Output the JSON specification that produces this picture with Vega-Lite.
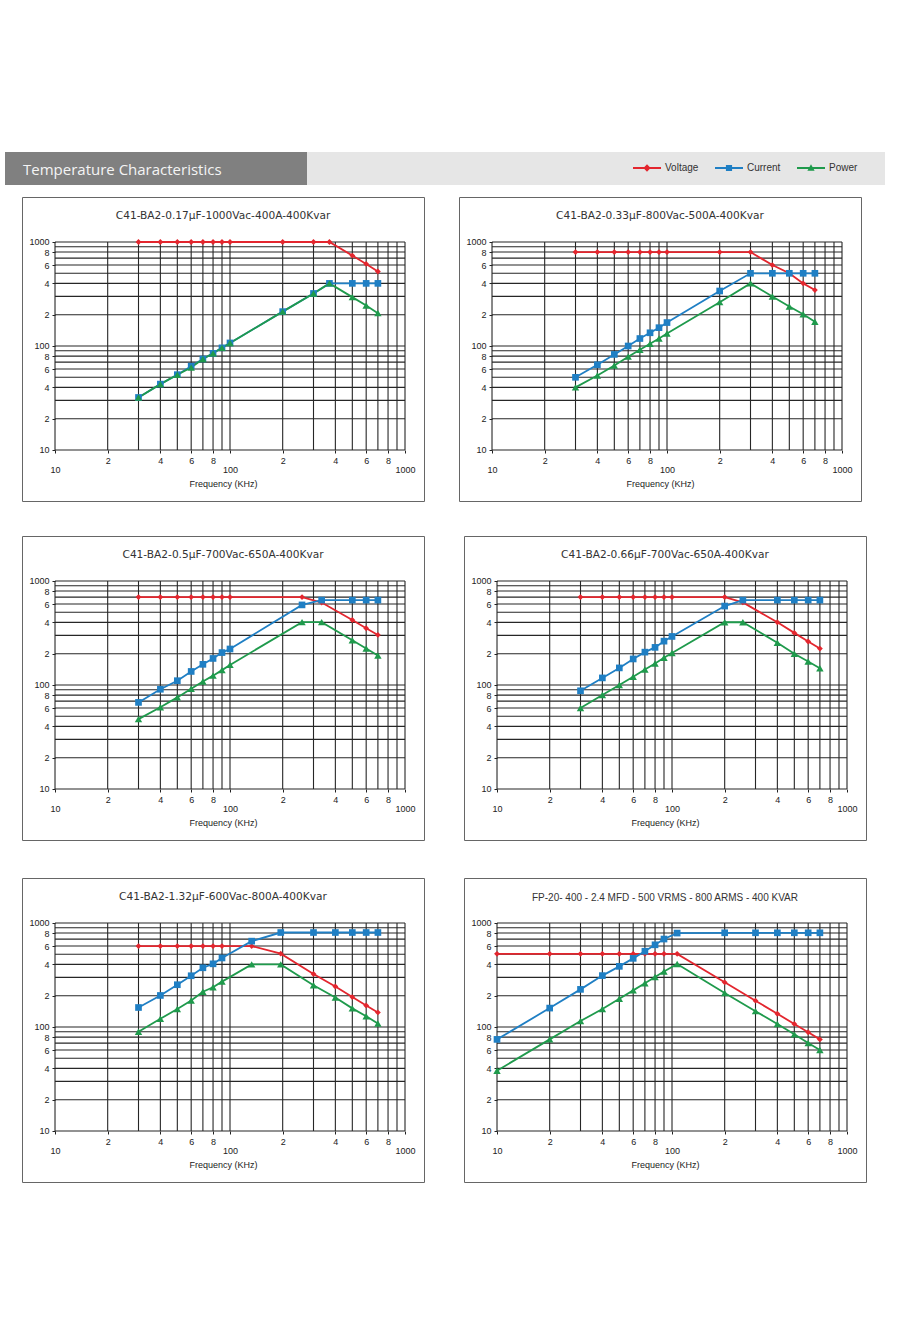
{
"$schema": "https://vega.github.io/schema/vega-lite/v6.json",
"background": "white",
"padding": {"left": 5, "top": 152, "right": 5, "bottom": 5},
"config": {
  "view": {"stroke": "#666666", "strokeWidth": 1},
  "font": "Liberation Sans",
  "title": {"font": "DejaVu Sans", "fontSize": 10.6, "fontWeight": "normal", "color": "#333333", "offset": -25, "baseline": "alphabetic"},
  "axis": {"labelFont": "Liberation Sans", "labelFontSize": 9, "labelColor": "#222222", "tickColor": "#222222", "tickSize": 3, "domain": false, "grid": false, "titleFont": "Liberation Sans", "titleFontSize": 9, "titleFontWeight": "normal", "titleColor": "#222222", "labelFlush": false, "labelOverlap": false}
},
"resolve": {"scale": {"color": "independent", "shape": "independent", "size": "independent"}, "legend": {"color": "independent", "shape": "independent", "size": "independent"}},
"datasets": {
  "grid": [{"f":10,"v":10},{"f":20,"v":20},{"f":30,"v":30},{"f":40,"v":40},{"f":50,"v":50},{"f":60,"v":60},{"f":70,"v":70},{"f":80,"v":80},{"f":90,"v":90},{"f":100,"v":100},{"f":200,"v":200},{"f":300,"v":300},{"f":400,"v":400},{"f":500,"v":500},{"f":600,"v":600},{"f":700,"v":700},{"f":800,"v":800},{"f":900,"v":900},{"f":1000,"v":1000}],
  "series": [
{"p":1,"s":"Voltage","f":30,"v":1000},{"p":1,"s":"Voltage","f":40,"v":1000},{"p":1,"s":"Voltage","f":50,"v":1000},{"p":1,"s":"Voltage","f":60,"v":1000},{"p":1,"s":"Voltage","f":70,"v":1000},{"p":1,"s":"Voltage","f":80,"v":1000},{"p":1,"s":"Voltage","f":90,"v":1000},{"p":1,"s":"Voltage","f":100,"v":1000},{"p":1,"s":"Voltage","f":200,"v":1000},{"p":1,"s":"Voltage","f":300,"v":1000},{"p":1,"s":"Voltage","f":370,"v":1000},{"p":1,"s":"Voltage","f":500,"v":740},{"p":1,"s":"Voltage","f":600,"v":615},{"p":1,"s":"Voltage","f":700,"v":520},
{"p":1,"s":"Current","f":30,"v":32},{"p":1,"s":"Current","f":40,"v":43},{"p":1,"s":"Current","f":50,"v":53},{"p":1,"s":"Current","f":60,"v":64},{"p":1,"s":"Current","f":70,"v":75},{"p":1,"s":"Current","f":80,"v":85},{"p":1,"s":"Current","f":90,"v":96},{"p":1,"s":"Current","f":100,"v":107},{"p":1,"s":"Current","f":200,"v":214},{"p":1,"s":"Current","f":300,"v":320},{"p":1,"s":"Current","f":370,"v":400},{"p":1,"s":"Current","f":500,"v":400},{"p":1,"s":"Current","f":600,"v":400},{"p":1,"s":"Current","f":700,"v":400},
{"p":1,"s":"Power","f":30,"v":32},{"p":1,"s":"Power","f":40,"v":43},{"p":1,"s":"Power","f":50,"v":53},{"p":1,"s":"Power","f":60,"v":62},{"p":1,"s":"Power","f":70,"v":75},{"p":1,"s":"Power","f":80,"v":85},{"p":1,"s":"Power","f":90,"v":96},{"p":1,"s":"Power","f":100,"v":107},{"p":1,"s":"Power","f":200,"v":214},{"p":1,"s":"Power","f":300,"v":320},{"p":1,"s":"Power","f":370,"v":400},{"p":1,"s":"Power","f":500,"v":295},{"p":1,"s":"Power","f":600,"v":245},{"p":1,"s":"Power","f":700,"v":207},
{"p":2,"s":"Voltage","f":30,"v":800},{"p":2,"s":"Voltage","f":40,"v":800},{"p":2,"s":"Voltage","f":50,"v":800},{"p":2,"s":"Voltage","f":60,"v":800},{"p":2,"s":"Voltage","f":70,"v":800},{"p":2,"s":"Voltage","f":80,"v":800},{"p":2,"s":"Voltage","f":90,"v":800},{"p":2,"s":"Voltage","f":100,"v":800},{"p":2,"s":"Voltage","f":200,"v":800},{"p":2,"s":"Voltage","f":300,"v":800},{"p":2,"s":"Voltage","f":400,"v":600},{"p":2,"s":"Voltage","f":500,"v":500},{"p":2,"s":"Voltage","f":600,"v":400},{"p":2,"s":"Voltage","f":700,"v":345},
{"p":2,"s":"Current","f":30,"v":50},{"p":2,"s":"Current","f":40,"v":66},{"p":2,"s":"Current","f":50,"v":83},{"p":2,"s":"Current","f":60,"v":100},{"p":2,"s":"Current","f":70,"v":118},{"p":2,"s":"Current","f":80,"v":134},{"p":2,"s":"Current","f":90,"v":150},{"p":2,"s":"Current","f":100,"v":168},{"p":2,"s":"Current","f":200,"v":338},{"p":2,"s":"Current","f":300,"v":500},{"p":2,"s":"Current","f":400,"v":500},{"p":2,"s":"Current","f":500,"v":500},{"p":2,"s":"Current","f":600,"v":500},{"p":2,"s":"Current","f":700,"v":500},
{"p":2,"s":"Power","f":30,"v":40},{"p":2,"s":"Power","f":40,"v":52},{"p":2,"s":"Power","f":50,"v":65},{"p":2,"s":"Power","f":60,"v":79},{"p":2,"s":"Power","f":70,"v":92},{"p":2,"s":"Power","f":80,"v":105},{"p":2,"s":"Power","f":90,"v":118},{"p":2,"s":"Power","f":100,"v":132},{"p":2,"s":"Power","f":200,"v":264},{"p":2,"s":"Power","f":300,"v":400},{"p":2,"s":"Power","f":400,"v":299},{"p":2,"s":"Power","f":500,"v":240},{"p":2,"s":"Power","f":600,"v":202},{"p":2,"s":"Power","f":700,"v":171},
{"p":3,"s":"Voltage","f":30,"v":700},{"p":3,"s":"Voltage","f":40,"v":700},{"p":3,"s":"Voltage","f":50,"v":700},{"p":3,"s":"Voltage","f":60,"v":700},{"p":3,"s":"Voltage","f":70,"v":700},{"p":3,"s":"Voltage","f":80,"v":700},{"p":3,"s":"Voltage","f":90,"v":700},{"p":3,"s":"Voltage","f":100,"v":700},{"p":3,"s":"Voltage","f":258,"v":700},{"p":3,"s":"Voltage","f":334,"v":620},{"p":3,"s":"Voltage","f":500,"v":422},{"p":3,"s":"Voltage","f":600,"v":351},{"p":3,"s":"Voltage","f":700,"v":303},
{"p":3,"s":"Current","f":30,"v":68},{"p":3,"s":"Current","f":40,"v":91},{"p":3,"s":"Current","f":50,"v":110},{"p":3,"s":"Current","f":60,"v":135},{"p":3,"s":"Current","f":70,"v":158},{"p":3,"s":"Current","f":80,"v":180},{"p":3,"s":"Current","f":90,"v":205},{"p":3,"s":"Current","f":100,"v":222},{"p":3,"s":"Current","f":258,"v":589},{"p":3,"s":"Current","f":334,"v":655},{"p":3,"s":"Current","f":500,"v":655},{"p":3,"s":"Current","f":600,"v":655},{"p":3,"s":"Current","f":700,"v":655},
{"p":3,"s":"Power","f":30,"v":47},{"p":3,"s":"Power","f":40,"v":61},{"p":3,"s":"Power","f":50,"v":76},{"p":3,"s":"Power","f":60,"v":92},{"p":3,"s":"Power","f":70,"v":108},{"p":3,"s":"Power","f":80,"v":123},{"p":3,"s":"Power","f":90,"v":139},{"p":3,"s":"Power","f":100,"v":156},{"p":3,"s":"Power","f":258,"v":402},{"p":3,"s":"Power","f":334,"v":402},{"p":3,"s":"Power","f":500,"v":269},{"p":3,"s":"Power","f":600,"v":224},{"p":3,"s":"Power","f":700,"v":192},
{"p":4,"s":"Voltage","f":30,"v":700},{"p":4,"s":"Voltage","f":40,"v":700},{"p":4,"s":"Voltage","f":50,"v":700},{"p":4,"s":"Voltage","f":60,"v":700},{"p":4,"s":"Voltage","f":70,"v":700},{"p":4,"s":"Voltage","f":80,"v":700},{"p":4,"s":"Voltage","f":90,"v":700},{"p":4,"s":"Voltage","f":100,"v":700},{"p":4,"s":"Voltage","f":200,"v":700},{"p":4,"s":"Voltage","f":254,"v":622},{"p":4,"s":"Voltage","f":400,"v":401},{"p":4,"s":"Voltage","f":500,"v":317},{"p":4,"s":"Voltage","f":600,"v":262},{"p":4,"s":"Voltage","f":700,"v":224},
{"p":4,"s":"Current","f":30,"v":88},{"p":4,"s":"Current","f":40,"v":117},{"p":4,"s":"Current","f":50,"v":146},{"p":4,"s":"Current","f":60,"v":178},{"p":4,"s":"Current","f":70,"v":207},{"p":4,"s":"Current","f":80,"v":230},{"p":4,"s":"Current","f":90,"v":264},{"p":4,"s":"Current","f":100,"v":293},{"p":4,"s":"Current","f":200,"v":574},{"p":4,"s":"Current","f":254,"v":655},{"p":4,"s":"Current","f":400,"v":655},{"p":4,"s":"Current","f":500,"v":655},{"p":4,"s":"Current","f":600,"v":655},{"p":4,"s":"Current","f":700,"v":655},
{"p":4,"s":"Power","f":30,"v":60},{"p":4,"s":"Power","f":40,"v":80},{"p":4,"s":"Power","f":50,"v":100},{"p":4,"s":"Power","f":60,"v":120},{"p":4,"s":"Power","f":70,"v":141},{"p":4,"s":"Power","f":80,"v":161},{"p":4,"s":"Power","f":90,"v":183},{"p":4,"s":"Power","f":100,"v":203},{"p":4,"s":"Power","f":200,"v":401},{"p":4,"s":"Power","f":254,"v":401},{"p":4,"s":"Power","f":400,"v":255},{"p":4,"s":"Power","f":500,"v":200},{"p":4,"s":"Power","f":600,"v":168},{"p":4,"s":"Power","f":700,"v":145},
{"p":5,"s":"Voltage","f":30,"v":600},{"p":5,"s":"Voltage","f":40,"v":600},{"p":5,"s":"Voltage","f":50,"v":600},{"p":5,"s":"Voltage","f":60,"v":600},{"p":5,"s":"Voltage","f":70,"v":600},{"p":5,"s":"Voltage","f":80,"v":600},{"p":5,"s":"Voltage","f":90,"v":600},{"p":5,"s":"Voltage","f":133,"v":600},{"p":5,"s":"Voltage","f":195,"v":507},{"p":5,"s":"Voltage","f":300,"v":323},{"p":5,"s":"Voltage","f":400,"v":245},{"p":5,"s":"Voltage","f":500,"v":194},{"p":5,"s":"Voltage","f":600,"v":161},{"p":5,"s":"Voltage","f":700,"v":138},
{"p":5,"s":"Current","f":30,"v":154},{"p":5,"s":"Current","f":40,"v":201},{"p":5,"s":"Current","f":50,"v":255},{"p":5,"s":"Current","f":60,"v":311},{"p":5,"s":"Current","f":70,"v":371},{"p":5,"s":"Current","f":80,"v":405},{"p":5,"s":"Current","f":90,"v":461},{"p":5,"s":"Current","f":133,"v":669},{"p":5,"s":"Current","f":195,"v":810},{"p":5,"s":"Current","f":300,"v":810},{"p":5,"s":"Current","f":400,"v":810},{"p":5,"s":"Current","f":500,"v":810},{"p":5,"s":"Current","f":600,"v":810},{"p":5,"s":"Current","f":700,"v":810},
{"p":5,"s":"Power","f":30,"v":90},{"p":5,"s":"Power","f":40,"v":120},{"p":5,"s":"Power","f":50,"v":149},{"p":5,"s":"Power","f":60,"v":180},{"p":5,"s":"Power","f":70,"v":218},{"p":5,"s":"Power","f":80,"v":241},{"p":5,"s":"Power","f":90,"v":273},{"p":5,"s":"Power","f":133,"v":400},{"p":5,"s":"Power","f":195,"v":400},{"p":5,"s":"Power","f":300,"v":252},{"p":5,"s":"Power","f":400,"v":192},{"p":5,"s":"Power","f":500,"v":151},{"p":5,"s":"Power","f":600,"v":127},{"p":5,"s":"Power","f":700,"v":108},
{"p":6,"s":"Voltage","f":10,"v":505},{"p":6,"s":"Voltage","f":20,"v":505},{"p":6,"s":"Voltage","f":30,"v":505},{"p":6,"s":"Voltage","f":40,"v":505},{"p":6,"s":"Voltage","f":50,"v":505},{"p":6,"s":"Voltage","f":60,"v":505},{"p":6,"s":"Voltage","f":70,"v":505},{"p":6,"s":"Voltage","f":80,"v":505},{"p":6,"s":"Voltage","f":90,"v":505},{"p":6,"s":"Voltage","f":107,"v":505},{"p":6,"s":"Voltage","f":200,"v":269},{"p":6,"s":"Voltage","f":300,"v":179},{"p":6,"s":"Voltage","f":400,"v":134},{"p":6,"s":"Voltage","f":500,"v":107},{"p":6,"s":"Voltage","f":600,"v":89},{"p":6,"s":"Voltage","f":700,"v":76},
{"p":6,"s":"Current","f":10,"v":76},{"p":6,"s":"Current","f":20,"v":152},{"p":6,"s":"Current","f":30,"v":230},{"p":6,"s":"Current","f":40,"v":312},{"p":6,"s":"Current","f":50,"v":383},{"p":6,"s":"Current","f":60,"v":457},{"p":6,"s":"Current","f":70,"v":535},{"p":6,"s":"Current","f":80,"v":617},{"p":6,"s":"Current","f":90,"v":701},{"p":6,"s":"Current","f":107,"v":800},{"p":6,"s":"Current","f":200,"v":805},{"p":6,"s":"Current","f":300,"v":805},{"p":6,"s":"Current","f":400,"v":805},{"p":6,"s":"Current","f":500,"v":805},{"p":6,"s":"Current","f":600,"v":805},{"p":6,"s":"Current","f":700,"v":805},
{"p":6,"s":"Power","f":10,"v":38},{"p":6,"s":"Power","f":20,"v":76},{"p":6,"s":"Power","f":30,"v":114},{"p":6,"s":"Power","f":40,"v":149},{"p":6,"s":"Power","f":50,"v":187},{"p":6,"s":"Power","f":60,"v":225},{"p":6,"s":"Power","f":70,"v":263},{"p":6,"s":"Power","f":80,"v":303},{"p":6,"s":"Power","f":90,"v":342},{"p":6,"s":"Power","f":107,"v":403},{"p":6,"s":"Power","f":200,"v":212},{"p":6,"s":"Power","f":300,"v":142},{"p":6,"s":"Power","f":400,"v":107},{"p":6,"s":"Power","f":500,"v":85},{"p":6,"s":"Power","f":600,"v":70},{"p":6,"s":"Power","f":700,"v":60}
  ]
},
"spacing": 11,
"vconcat": [
  {"hconcat": [
    {"width": 302, "height": 33, "view": {"fill": "#808080", "stroke": null},
     "data": {"values": [{"t": "Temperature Characteristics"}]},
     "mark": {"type": "text", "align": "left", "baseline": "alphabetic", "dx": -133, "dy": 6.5, "font": "Open Sans", "fontSize": 15, "color": "#f4f4f4"},
     "encoding": {"text": {"field": "t", "type": "nominal"}}},
    {"width": 578, "height": 33, "view": {"fill": "#e6e6e6", "stroke": null},
     "data": {"values": [{"s": "Voltage"}, {"s": "Current"}, {"s": "Power"}]},
     "mark": {"type": "point", "filled": true, "opacity": 0},
     "encoding": {
       "color": {"field": "s", "type": "nominal", "scale": {"domain": ["Voltage", "Current", "Power"], "range": ["#e3262e", "#1f7fc4", "#1f9a4c"]},
         "legend": {"title": null, "orient": "none", "legendX": 628, "legendY": 2, "direction": "horizontal", "symbolSize": 784, "symbolOpacity": 1, "symbolStrokeWidth": 0, "labelFont": "Liberation Sans", "labelFontSize": 10, "labelColor": "#333333", "labelOffset": 4, "columnPadding": 16}},
       "shape": {"field": "s", "type": "nominal", "scale": {"domain": ["Voltage", "Current", "Power"], "range": ["M-1,-0.07H1V0.07H-1Z M0,-0.26L0.26,0L0,0.26L-0.26,0Z", "M-1,-0.07H1V0.07H-1Z M-0.22,-0.22H0.22V0.22H-0.22Z", "M-1,-0.07H1V0.07H-1Z M0,-0.27L0.26,0.2H-0.26Z"]},
         "legend": {"title": null, "orient": "none", "legendX": 628, "legendY": 2, "direction": "horizontal", "symbolSize": 784, "symbolOpacity": 1, "symbolStrokeWidth": 0, "labelFont": "Liberation Sans", "labelFontSize": 10, "labelColor": "#333333", "labelOffset": 4, "columnPadding": 16}}
     }}
  ], "spacing": 0},
  {"hconcat": [
    {"width": 2, "height": 2, "view": {"stroke": null}, "data": {"values": [{"k": 1}]}, "mark": {"type": "point", "opacity": 0, "size": 1}},
    {"vconcat": [
      {"hconcat": [
        {"width": 402, "height": 304, "title": {"text": "C41-BA2-0.17μF-1000Vac-400A-400Kvar"},
         "encoding": {
           "x": {"field": "f", "type": "quantitative", "scale": {"type": "log", "domain": [6.477, 1284], "nice": false}, "axis": {"values": [10,20,40,60,80,100,200,400,600,800,1000], "format": "d", "labelExpr": "indexof(['10','100','1000'], datum.label) >= 0 ? datum.label : slice(datum.label, 0, 1)", "offset": -51, "title": "Frequency (KHz)", "titlePadding": 5, "labelPadding": {"condition": {"test": "datum.value == 10 || datum.value == 100 || datum.value == 1000", "value": 12}, "value": 3}}},
           "y": {"field": "v", "type": "quantitative", "scale": {"type": "log", "domain": [3.233, 2708], "nice": false}, "axis": {"values": [10,20,40,60,80,100,200,400,600,800,1000], "format": "d", "labelExpr": "indexof(['10','100','1000'], datum.label) >= 0 ? datum.label : slice(datum.label, 0, 1)", "offset": -33, "title": null, "labelPadding": 3}}
         },
         "layer": [
           {"data": {"name": "grid"}, "mark": {"type": "rule", "color": "#262626", "strokeWidth": 1.1}, "encoding": {"y": {"datum": 10}, "y2": {"datum": 1000}}},
           {"data": {"name": "grid"}, "mark": {"type": "rule", "color": "#262626", "strokeWidth": 1.1}, "encoding": {"x": {"datum": 10}, "x2": {"datum": 1000}}},
           {"data": {"name": "series"}, "transform": [{"filter": "datum.p == 1"}], "layer": [
             {"mark": {"type": "line", "strokeWidth": 1.8}, "encoding": {"color": {"field": "s", "type": "nominal", "scale": {"domain": ["Voltage", "Current", "Power"], "range": ["#e3262e", "#1f7fc4", "#1f9a4c"]}, "legend": null}}},
             {"mark": {"type": "point", "filled": true, "opacity": 1}, "encoding": {"color": {"field": "s", "type": "nominal", "scale": {"domain": ["Voltage", "Current", "Power"], "range": ["#e3262e", "#1f7fc4", "#1f9a4c"]}, "legend": null}, "shape": {"field": "s", "type": "nominal", "scale": {"domain": ["Voltage", "Current", "Power"], "range": ["diamond", "square", "triangle-up"]}, "legend": null}, "size": {"field": "s", "type": "ordinal", "scale": {"domain": ["Voltage", "Current", "Power"], "range": [34, 55, 45]}, "legend": null}}}
           ]}
         ]},
        {"width": 402, "height": 304, "title": {"text": "C41-BA2-0.33μF-800Vac-500A-400Kvar"},
         "encoding": {
           "x": {"field": "f", "type": "quantitative", "scale": {"type": "log", "domain": [6.477, 1284], "nice": false}, "axis": {"values": [10,20,40,60,80,100,200,400,600,800,1000], "format": "d", "labelExpr": "indexof(['10','100','1000'], datum.label) >= 0 ? datum.label : slice(datum.label, 0, 1)", "offset": -51, "title": "Frequency (KHz)", "titlePadding": 5, "labelPadding": {"condition": {"test": "datum.value == 10 || datum.value == 100 || datum.value == 1000", "value": 12}, "value": 3}}},
           "y": {"field": "v", "type": "quantitative", "scale": {"type": "log", "domain": [3.233, 2708], "nice": false}, "axis": {"values": [10,20,40,60,80,100,200,400,600,800,1000], "format": "d", "labelExpr": "indexof(['10','100','1000'], datum.label) >= 0 ? datum.label : slice(datum.label, 0, 1)", "offset": -33, "title": null, "labelPadding": 3}}
         },
         "layer": [
           {"data": {"name": "grid"}, "mark": {"type": "rule", "color": "#262626", "strokeWidth": 1.1}, "encoding": {"y": {"datum": 10}, "y2": {"datum": 1000}}},
           {"data": {"name": "grid"}, "mark": {"type": "rule", "color": "#262626", "strokeWidth": 1.1}, "encoding": {"x": {"datum": 10}, "x2": {"datum": 1000}}},
           {"data": {"name": "series"}, "transform": [{"filter": "datum.p == 2"}], "layer": [
             {"mark": {"type": "line", "strokeWidth": 1.8}, "encoding": {"color": {"field": "s", "type": "nominal", "scale": {"domain": ["Voltage", "Current", "Power"], "range": ["#e3262e", "#1f7fc4", "#1f9a4c"]}, "legend": null}}},
             {"mark": {"type": "point", "filled": true, "opacity": 1}, "encoding": {"color": {"field": "s", "type": "nominal", "scale": {"domain": ["Voltage", "Current", "Power"], "range": ["#e3262e", "#1f7fc4", "#1f9a4c"]}, "legend": null}, "shape": {"field": "s", "type": "nominal", "scale": {"domain": ["Voltage", "Current", "Power"], "range": ["diamond", "square", "triangle-up"]}, "legend": null}, "size": {"field": "s", "type": "ordinal", "scale": {"domain": ["Voltage", "Current", "Power"], "range": [34, 55, 45]}, "legend": null}}}
           ]}
         ]}
      ], "spacing": 33},
      {"vconcat": [
        {"hconcat": [
          {"width": 402, "height": 304, "title": {"text": "C41-BA2-0.5μF-700Vac-650A-400Kvar"},
           "encoding": {
             "x": {"field": "f", "type": "quantitative", "scale": {"type": "log", "domain": [6.477, 1284], "nice": false}, "axis": {"values": [10,20,40,60,80,100,200,400,600,800,1000], "format": "d", "labelExpr": "indexof(['10','100','1000'], datum.label) >= 0 ? datum.label : slice(datum.label, 0, 1)", "offset": -51, "title": "Frequency (KHz)", "titlePadding": 5, "labelPadding": {"condition": {"test": "datum.value == 10 || datum.value == 100 || datum.value == 1000", "value": 12}, "value": 3}}},
             "y": {"field": "v", "type": "quantitative", "scale": {"type": "log", "domain": [3.233, 2708], "nice": false}, "axis": {"values": [10,20,40,60,80,100,200,400,600,800,1000], "format": "d", "labelExpr": "indexof(['10','100','1000'], datum.label) >= 0 ? datum.label : slice(datum.label, 0, 1)", "offset": -33, "title": null, "labelPadding": 3}}
           },
           "layer": [
             {"data": {"name": "grid"}, "mark": {"type": "rule", "color": "#262626", "strokeWidth": 1.1}, "encoding": {"y": {"datum": 10}, "y2": {"datum": 1000}}},
             {"data": {"name": "grid"}, "mark": {"type": "rule", "color": "#262626", "strokeWidth": 1.1}, "encoding": {"x": {"datum": 10}, "x2": {"datum": 1000}}},
             {"data": {"name": "series"}, "transform": [{"filter": "datum.p == 3"}], "layer": [
               {"mark": {"type": "line", "strokeWidth": 1.8}, "encoding": {"color": {"field": "s", "type": "nominal", "scale": {"domain": ["Voltage", "Current", "Power"], "range": ["#e3262e", "#1f7fc4", "#1f9a4c"]}, "legend": null}}},
               {"mark": {"type": "point", "filled": true, "opacity": 1}, "encoding": {"color": {"field": "s", "type": "nominal", "scale": {"domain": ["Voltage", "Current", "Power"], "range": ["#e3262e", "#1f7fc4", "#1f9a4c"]}, "legend": null}, "shape": {"field": "s", "type": "nominal", "scale": {"domain": ["Voltage", "Current", "Power"], "range": ["diamond", "square", "triangle-up"]}, "legend": null}, "size": {"field": "s", "type": "ordinal", "scale": {"domain": ["Voltage", "Current", "Power"], "range": [34, 55, 45]}, "legend": null}}}
             ]}
           ]},
          {"width": 402, "height": 304, "title": {"text": "C41-BA2-0.66μF-700Vac-650A-400Kvar"},
           "encoding": {
             "x": {"field": "f", "type": "quantitative", "scale": {"type": "log", "domain": [6.477, 1284], "nice": false}, "axis": {"values": [10,20,40,60,80,100,200,400,600,800,1000], "format": "d", "labelExpr": "indexof(['10','100','1000'], datum.label) >= 0 ? datum.label : slice(datum.label, 0, 1)", "offset": -51, "title": "Frequency (KHz)", "titlePadding": 5, "labelPadding": {"condition": {"test": "datum.value == 10 || datum.value == 100 || datum.value == 1000", "value": 12}, "value": 3}}},
             "y": {"field": "v", "type": "quantitative", "scale": {"type": "log", "domain": [3.233, 2708], "nice": false}, "axis": {"values": [10,20,40,60,80,100,200,400,600,800,1000], "format": "d", "labelExpr": "indexof(['10','100','1000'], datum.label) >= 0 ? datum.label : slice(datum.label, 0, 1)", "offset": -33, "title": null, "labelPadding": 3}}
           },
           "layer": [
             {"data": {"name": "grid"}, "mark": {"type": "rule", "color": "#262626", "strokeWidth": 1.1}, "encoding": {"y": {"datum": 10}, "y2": {"datum": 1000}}},
             {"data": {"name": "grid"}, "mark": {"type": "rule", "color": "#262626", "strokeWidth": 1.1}, "encoding": {"x": {"datum": 10}, "x2": {"datum": 1000}}},
             {"data": {"name": "series"}, "transform": [{"filter": "datum.p == 4"}], "layer": [
               {"mark": {"type": "line", "strokeWidth": 1.8}, "encoding": {"color": {"field": "s", "type": "nominal", "scale": {"domain": ["Voltage", "Current", "Power"], "range": ["#e3262e", "#1f7fc4", "#1f9a4c"]}, "legend": null}}},
               {"mark": {"type": "point", "filled": true, "opacity": 1}, "encoding": {"color": {"field": "s", "type": "nominal", "scale": {"domain": ["Voltage", "Current", "Power"], "range": ["#e3262e", "#1f7fc4", "#1f9a4c"]}, "legend": null}, "shape": {"field": "s", "type": "nominal", "scale": {"domain": ["Voltage", "Current", "Power"], "range": ["diamond", "square", "triangle-up"]}, "legend": null}, "size": {"field": "s", "type": "ordinal", "scale": {"domain": ["Voltage", "Current", "Power"], "range": [34, 55, 45]}, "legend": null}}}
             ]}
           ]}
        ], "spacing": 38},
        {"hconcat": [
          {"width": 402, "height": 304, "title": {"text": "C41-BA2-1.32μF-600Vac-800A-400Kvar"},
           "encoding": {
             "x": {"field": "f", "type": "quantitative", "scale": {"type": "log", "domain": [6.477, 1284], "nice": false}, "axis": {"values": [10,20,40,60,80,100,200,400,600,800,1000], "format": "d", "labelExpr": "indexof(['10','100','1000'], datum.label) >= 0 ? datum.label : slice(datum.label, 0, 1)", "offset": -51, "title": "Frequency (KHz)", "titlePadding": 5, "labelPadding": {"condition": {"test": "datum.value == 10 || datum.value == 100 || datum.value == 1000", "value": 12}, "value": 3}}},
             "y": {"field": "v", "type": "quantitative", "scale": {"type": "log", "domain": [3.233, 2708], "nice": false}, "axis": {"values": [10,20,40,60,80,100,200,400,600,800,1000], "format": "d", "labelExpr": "indexof(['10','100','1000'], datum.label) >= 0 ? datum.label : slice(datum.label, 0, 1)", "offset": -33, "title": null, "labelPadding": 3}}
           },
           "layer": [
             {"data": {"name": "grid"}, "mark": {"type": "rule", "color": "#262626", "strokeWidth": 1.1}, "encoding": {"y": {"datum": 10}, "y2": {"datum": 1000}}},
             {"data": {"name": "grid"}, "mark": {"type": "rule", "color": "#262626", "strokeWidth": 1.1}, "encoding": {"x": {"datum": 10}, "x2": {"datum": 1000}}},
             {"data": {"name": "series"}, "transform": [{"filter": "datum.p == 5"}], "layer": [
               {"mark": {"type": "line", "strokeWidth": 1.8}, "encoding": {"color": {"field": "s", "type": "nominal", "scale": {"domain": ["Voltage", "Current", "Power"], "range": ["#e3262e", "#1f7fc4", "#1f9a4c"]}, "legend": null}}},
               {"mark": {"type": "point", "filled": true, "opacity": 1}, "encoding": {"color": {"field": "s", "type": "nominal", "scale": {"domain": ["Voltage", "Current", "Power"], "range": ["#e3262e", "#1f7fc4", "#1f9a4c"]}, "legend": null}, "shape": {"field": "s", "type": "nominal", "scale": {"domain": ["Voltage", "Current", "Power"], "range": ["diamond", "square", "triangle-up"]}, "legend": null}, "size": {"field": "s", "type": "ordinal", "scale": {"domain": ["Voltage", "Current", "Power"], "range": [34, 55, 45]}, "legend": null}}}
             ]}
           ]},
          {"width": 402, "height": 304, "title": {"text": "FP-20- 400 - 2.4 MFD - 500 VRMS - 800 ARMS - 400 KVAR", "font": "Liberation Sans", "fontSize": 10},
           "encoding": {
             "x": {"field": "f", "type": "quantitative", "scale": {"type": "log", "domain": [6.477, 1284], "nice": false}, "axis": {"values": [10,20,40,60,80,100,200,400,600,800,1000], "format": "d", "labelExpr": "indexof(['10','100','1000'], datum.label) >= 0 ? datum.label : slice(datum.label, 0, 1)", "offset": -51, "title": "Frequency (KHz)", "titlePadding": 5, "labelPadding": {"condition": {"test": "datum.value == 10 || datum.value == 100 || datum.value == 1000", "value": 12}, "value": 3}}},
             "y": {"field": "v", "type": "quantitative", "scale": {"type": "log", "domain": [3.233, 2708], "nice": false}, "axis": {"values": [10,20,40,60,80,100,200,400,600,800,1000], "format": "d", "labelExpr": "indexof(['10','100','1000'], datum.label) >= 0 ? datum.label : slice(datum.label, 0, 1)", "offset": -33, "title": null, "labelPadding": 3}}
           },
           "layer": [
             {"data": {"name": "grid"}, "mark": {"type": "rule", "color": "#262626", "strokeWidth": 1.1}, "encoding": {"y": {"datum": 10}, "y2": {"datum": 1000}}},
             {"data": {"name": "grid"}, "mark": {"type": "rule", "color": "#262626", "strokeWidth": 1.1}, "encoding": {"x": {"datum": 10}, "x2": {"datum": 1000}}},
             {"data": {"name": "series"}, "transform": [{"filter": "datum.p == 6"}], "layer": [
               {"mark": {"type": "line", "strokeWidth": 1.8}, "encoding": {"color": {"field": "s", "type": "nominal", "scale": {"domain": ["Voltage", "Current", "Power"], "range": ["#e3262e", "#1f7fc4", "#1f9a4c"]}, "legend": null}}},
               {"mark": {"type": "point", "filled": true, "opacity": 1}, "encoding": {"color": {"field": "s", "type": "nominal", "scale": {"domain": ["Voltage", "Current", "Power"], "range": ["#e3262e", "#1f7fc4", "#1f9a4c"]}, "legend": null}, "shape": {"field": "s", "type": "nominal", "scale": {"domain": ["Voltage", "Current", "Power"], "range": ["diamond", "square", "triangle-up"]}, "legend": null}, "size": {"field": "s", "type": "ordinal", "scale": {"domain": ["Voltage", "Current", "Power"], "range": [34, 55, 45]}, "legend": null}}}
             ]}
           ]}
        ], "spacing": 38}
      ], "spacing": 36}
    ], "spacing": 33}
  ], "spacing": 14}
]
}
